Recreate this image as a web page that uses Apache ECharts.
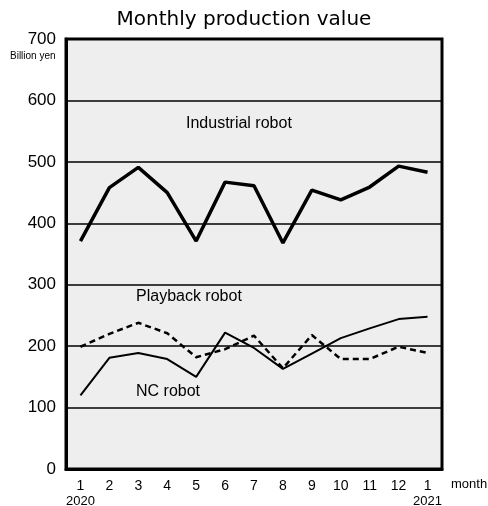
<!DOCTYPE html>
<html>
<head>
<meta charset="utf-8">
<script src="https://cdn.jsdelivr.net/npm/echarts@6/dist/echarts.min.js"></script>
<style>
html,body{margin:0;padding:0;background:#fff;}
#main{width:488px;height:506px;}
</style>
</head>
<body>
<div id="main"></div>
<script>
// months Jan 2020 .. Jan 2021
var months = ['1','2','3','4','5','6','7','8','9','10','11','12','1'];
var years = ['2020','','','','','','','','','','','','2021'];
var yTicks = [0,100,200,300,400,500,600,700];
// billion yen
var industrial = [371,458,491,450,371,467,461,368,454,438,459,493,483];
var playback = [199,220,238,221,182,195,217,164,218,179,179,199,189];
var ncRobot = [120,181,189,179,150,222,197,163,188,213,229,244,248];

var myChart = echarts.init(document.getElementById('main'));
var font = 'Liberation Sans, Arial, sans-serif';

var option = {
    animation: false,
    title: {
        text: 'Monthly production value',
        left: 'center',
        top: 5,
        textStyle: {fontFamily: 'DejaVu Sans, sans-serif', fontSize: 20, fontWeight: 'normal', color: '#000'}
    },
    grid: {
        left: 66, right: 46, top: 39, bottom: 37,
        outerBoundsMode: 'none',
        containLabel: false,
        show: true,
        backgroundColor: '#eeeeee',
        borderColor: '#000',
        borderWidth: 3
    },
    xAxis: {
        type: 'category',
        data: months,
        boundaryGap: true,
        axisLine: {lineStyle: {color: '#000', width: 3}},
        axisTick: {inside: true, length: 10, lineStyle: {color: '#000', width: 1.5}},
        axisLabel: {
            interval: 0,
            margin: 9,
            fontFamily: font,
            fontSize: 14,
            color: '#000',
            lineHeight: 16,
            formatter: function (v, i) {
                return years[i] ? v + '\n{y|' + years[i] + '}' : v;
            },
            rich: {y: {fontSize: 13, fontFamily: font, color: '#000', lineHeight: 14}}
        }
    },
    yAxis: {
        type: 'value',
        min: yTicks[0],
        max: yTicks[yTicks.length - 1],
        interval: 100,
        axisLine: {show: true, lineStyle: {color: '#000', width: 3}},
        axisTick: {show: false},
        axisLabel: {margin: 10, fontFamily: font, fontSize: 17, color: '#000'},
        splitLine: {lineStyle: {color: '#000', width: 1.5}}
    },
    graphic: [
        {type: 'text', left: 10, top: 51, style: {text: 'Billion yen', font: '10px ' + font, fill: '#000'}},
        {type: 'text', left: 451, top: 478, style: {text: 'month', font: '13px ' + font, fill: '#000'}},
        {type: 'text', left: 186, top: 116, style: {text: 'Industrial robot', font: '16px ' + font, fill: '#000'}},
        {type: 'text', left: 136, top: 289, style: {text: 'Playback robot', font: '16px ' + font, fill: '#000'}},
        {type: 'text', left: 136, top: 384, style: {text: 'NC robot', font: '16px ' + font, fill: '#000'}}
    ],
    series: [
        {
            name: 'Industrial robot', type: 'line', data: industrial,
            symbol: 'none',
            lineStyle: {color: '#000', width: 3.5}
        },
        {
            name: 'Playback robot', type: 'line', data: playback,
            symbol: 'none',
            lineStyle: {color: '#000', width: 2.5, type: [6, 4]}
        },
        {
            name: 'NC robot', type: 'line', data: ncRobot,
            symbol: 'none',
            lineStyle: {color: '#000', width: 2}
        }
    ]
};
myChart.setOption(option);
</script>
</body>
</html>
